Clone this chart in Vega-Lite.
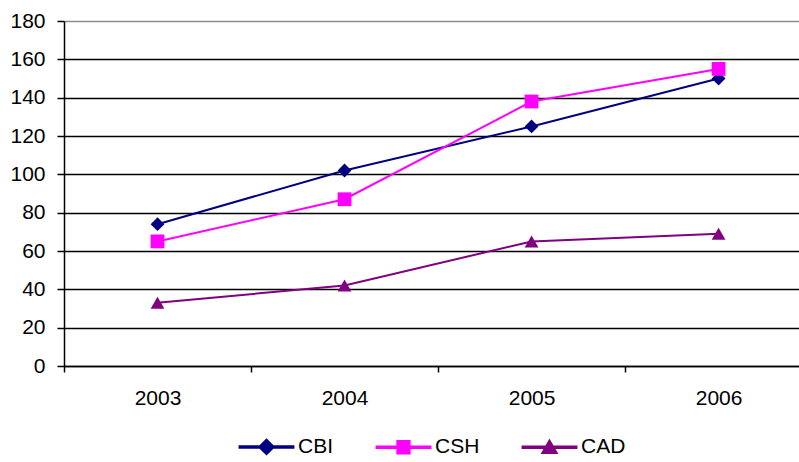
{
  "$schema": "https://vega.github.io/schema/vega-lite/v6.json",
  "autosize": "none",
  "width": 735,
  "height": 345,
  "padding": {"left": 64, "top": 21, "right": 0, "bottom": 96},
  "background": "white",
  "config": {
    "font": "Liberation Sans",
    "view": {"stroke": null},
    "legend": {"layout": {"bottom": {"anchor": "middle"}}}
  },
  "data": {
    "values": [
      {"s": "CBI", "year": 2003, "value": 74},
      {"s": "CBI", "year": 2004, "value": 102},
      {"s": "CBI", "year": 2005, "value": 125},
      {"s": "CBI", "year": 2006, "value": 150},
      {"s": "CSH", "year": 2003, "value": 65},
      {"s": "CSH", "year": 2004, "value": 87},
      {"s": "CSH", "year": 2005, "value": 138},
      {"s": "CSH", "year": 2006, "value": 155},
      {"s": "CAD", "year": 2003, "value": 33},
      {"s": "CAD", "year": 2004, "value": 42},
      {"s": "CAD", "year": 2005, "value": 65},
      {"s": "CAD", "year": 2006, "value": 69}
    ]
  },
  "encoding": {
    "x": {
      "field": "year",
      "type": "quantitative",
      "scale": {"domain": [2002.5, 2006.43], "nice": false, "zero": false},
      "axis": {
        "title": null,
        "values": [2002.5, 2003, 2003.5, 2004, 2004.5, 2005, 2005.5, 2006],
        "labelExpr": "floor(datum.value) === datum.value ? format(datum.value, 'd') : ''",
        "labelFontSize": 21,
        "labelColor": "black",
        "labelPadding": 15,
        "labelFlush": false,
        "labelOverlap": false,
        "labelBound": false,
        "tickSize": 6,
        "tickWidth": 1.5,
        "tickColor": "black",
        "tickOpacity": {"condition": {"test": "floor(datum.value) === datum.value", "value": 0}, "value": 1},
        "domainColor": "black",
        "domainWidth": 1.5,
        "grid": false
      }
    },
    "y": {
      "field": "value",
      "type": "quantitative",
      "scale": {"domain": [0, 180], "nice": false},
      "axis": {
        "title": null,
        "values": [0, 20, 40, 60, 80, 100, 120, 140, 160, 180],
        "labelFontSize": 21,
        "labelColor": "black",
        "labelPadding": 12,
        "tickSize": 7,
        "tickWidth": 1.5,
        "tickColor": "black",
        "domainColor": "black",
        "domainWidth": 1.5,
        "grid": true,
        "gridColor": {"condition": {"test": "datum.value === 180", "value": "#8c8c8c"}, "value": "black"},
        "gridWidth": 1.4,
        "gridOpacity": 1
      }
    },
    "color": {
      "field": "s",
      "type": "nominal",
      "scale": {"domain": ["CBI", "CSH", "CAD"], "range": ["#000080", "#FF00FF", "#800080"]},
      "legend": {
        "title": null,
        "orient": "bottom",
        "direction": "horizontal",
        "labelFontSize": 21,
        "labelColor": "black",
        "symbolSize": 256,
        "symbolOpacity": 1,
        "symbolOffset": 19,
        "labelOffset": 21,
        "columnPadding": 39,
        "offset": 28
      }
    }
  },
  "layer": [
    {
      "mark": {"type": "line", "strokeWidth": 2}
    },
    {
      "transform": [{"filter": "datum.s === 'CBI'"}],
      "mark": {"type": "point", "filled": true, "opacity": 1, "size": 190, "shape": "diamond"}
    },
    {
      "transform": [{"filter": "datum.s === 'CSH'"}],
      "mark": {"type": "point", "filled": true, "opacity": 1, "size": 190, "shape": "square"}
    },
    {
      "transform": [{"filter": "datum.s === 'CAD'"}],
      "mark": {"type": "point", "filled": true, "opacity": 1, "size": 190, "shape": "triangle-up"}
    },
    {
      "mark": {"type": "point", "filled": true, "opacity": 0, "size": 10},
      "encoding": {
        "shape": {
          "field": "s",
          "type": "nominal",
          "scale": {
            "domain": ["CBI", "CSH", "CAD"],
            "range": [
              "M-3.4,-0.12L3.4,-0.12L3.4,0.12L-3.4,0.12ZM0,-0.95L0.95,0L0,0.95L-0.95,0Z",
              "M-3.4,-0.12L3.4,-0.12L3.4,0.12L-3.4,0.12ZM-0.8,-0.8L0.8,-0.8L0.8,0.8L-0.8,0.8Z",
              "M-3.4,-0.12L3.4,-0.12L3.4,0.12L-3.4,0.12ZM0,-0.9L0.95,0.75L-0.95,0.75Z"
            ]
          },
          "legend": {
            "title": null,
            "orient": "bottom",
            "direction": "horizontal",
            "labelFontSize": 21,
            "labelColor": "black",
            "symbolSize": 256,
            "symbolOpacity": 1,
            "symbolOffset": 19,
            "labelOffset": 21,
            "columnPadding": 39,
            "offset": 28
          }
        }
      }
    }
  ]
}
